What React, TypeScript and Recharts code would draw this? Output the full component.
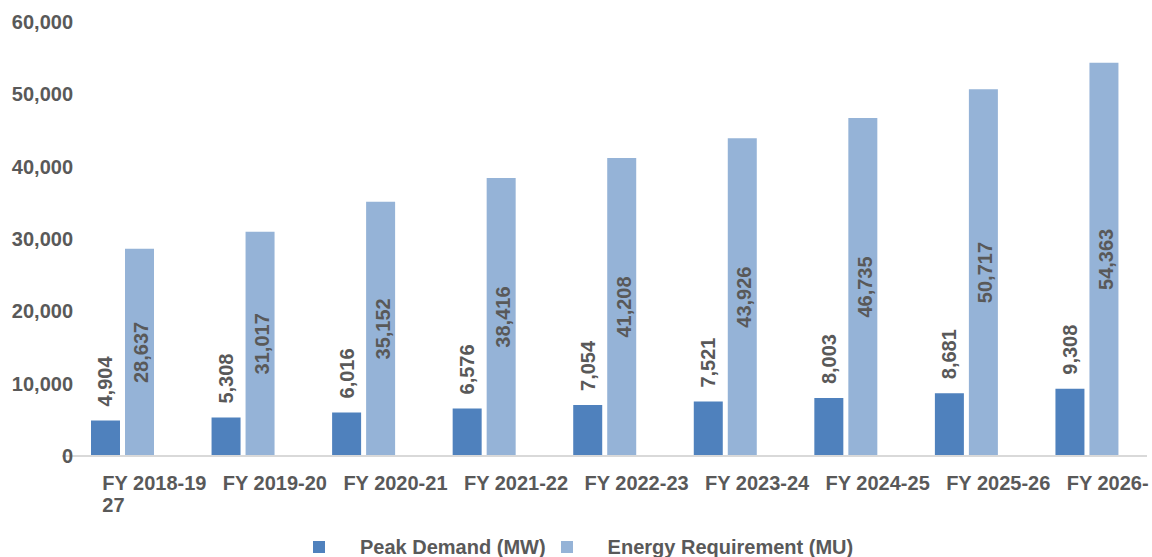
import React from "react";
import { BarChart, Bar, XAxis, YAxis, LabelList } from "recharts";

const categories = [
  "FY 2018-19",
  "FY 2019-20",
  "FY 2020-21",
  "FY 2021-22",
  "FY 2022-23",
  "FY 2023-24",
  "FY 2024-25",
  "FY 2025-26",
  "FY 2026-27",
];
const peakDemand = [4904, 5308, 6016, 6576, 7054, 7521, 8003, 8681, 9308];
const energyRequirement = [28637, 31017, 35152, 38416, 41208, 43926, 46735, 50717, 54363];
const yTicks = [0, 10000, 20000, 30000, 40000, 50000, 60000];

const data = categories.map((c, i) => ({
  name: c,
  peak: peakDemand[i],
  energy: energyRequirement[i],
}));

const TEXT = "#595959";
const FONT = "'Liberation Sans', Arial, sans-serif";
const DARK = "#4F81BD";
const LIGHT = "#95B3D7";

const fmt = (v: number) => v.toLocaleString("en-US");

const lastName = categories[categories.length - 1];
const lastHead = lastName.slice(0, lastName.lastIndexOf("-") + 1);
const lastTail = lastName.slice(lastName.lastIndexOf("-") + 1);

const XTick = (props: any) => {
  const { x, y, payload, index } = props;
  const isLast = index === categories.length - 1;
  const label = isLast ? lastHead : payload.value;
  return (
    <g>
      <text
        x={x - 20}
        y={y + 26}
        textAnchor="start"
        fill={TEXT}
        fontFamily={FONT}
        fontWeight="bold"
        fontSize={20}
      >
        {label}
      </text>
      {index === 0 && (
        <text
          x={x - 20}
          y={y + 48}
          textAnchor="start"
          fill={TEXT}
          fontFamily={FONT}
          fontWeight="bold"
          fontSize={20}
        >
          {lastTail}
        </text>
      )}
    </g>
  );
};

const YTick = (props: any) => {
  const { y, payload } = props;
  return (
    <text
      x={73}
      y={y}
      dy={7}
      textAnchor="end"
      fill={TEXT}
      fontFamily={FONT}
      fontWeight="bold"
      fontSize={20}
    >
      {fmt(payload.value)}
    </text>
  );
};

const TopLabel = (props: any) => {
  const { x, y, width, value } = props;
  const cx = x + width / 2;
  const y0 = y - 14;
  return (
    <text
      x={cx}
      y={y0}
      transform={`rotate(-90 ${cx} ${y0})`}
      textAnchor="start"
      dominantBaseline="central"
      fill={TEXT}
      fontFamily={FONT}
      fontWeight="bold"
      fontSize={20}
    >
      {fmt(value)}
    </text>
  );
};

const CenterLabel = (props: any) => {
  const { x, y, width, height, value } = props;
  const cx = x + width / 2 + 2;
  const cy = y + height / 2;
  return (
    <text
      x={cx}
      y={cy}
      transform={`rotate(-90 ${cx} ${cy})`}
      textAnchor="middle"
      dominantBaseline="central"
      fill={TEXT}
      fontFamily={FONT}
      fontWeight="bold"
      fontSize={20}
    >
      {fmt(value)}
    </text>
  );
};

const LegendItem = ({ color, label, gap }: { color: string; label: string; gap: number }) => (
  <div style={{ display: "flex", alignItems: "center" }}>
    <div style={{ width: 12, height: 12, background: color, marginRight: gap }} />
    <span>{label}</span>
  </div>
);

export default function App() {
  return (
    <div
      style={{
        position: "absolute",
        left: 0,
        top: 0,
        width: 1152,
        height: 557,
        overflow: "hidden",
        background: "#fff",
      }}
    >
      <BarChart
        width={1152}
        height={557}
        data={data}
        margin={{ top: 22, right: 5, left: 0, bottom: 0 }}
        barSize={29}
        barGap={5}
      >
        <YAxis
          width={62}
          domain={[0, 60000]}
          ticks={yTicks}
          axisLine={false}
          tickLine={false}
          tick={<YTick />}
          interval={0}
        />
        <XAxis
          dataKey="name"
          axisLine={{ stroke: "#D9D9D9", strokeWidth: 2 }}
          tickLine={false}
          tick={<XTick />}
          interval={0}
          height={101}
        />
        <Bar dataKey="peak" fill={DARK} isAnimationActive={false}>
          <LabelList dataKey="peak" content={<TopLabel />} />
        </Bar>
        <Bar dataKey="energy" fill={LIGHT} isAnimationActive={false}>
          <LabelList dataKey="energy" content={<CenterLabel />} />
        </Bar>
      </BarChart>
      <div
        style={{
          position: "absolute",
          left: 313,
          top: 535,
          display: "flex",
          fontFamily: FONT,
          fontWeight: "bold",
          fontSize: 20,
          color: TEXT,
          lineHeight: "24px",
        }}
      >
        <LegendItem color={DARK} label="Peak Demand (MW)" gap={35} />
        <div style={{ width: 15 }} />
        <LegendItem color={LIGHT} label="Energy Requirement (MU)" gap={35} />
      </div>
    </div>
  );
}
